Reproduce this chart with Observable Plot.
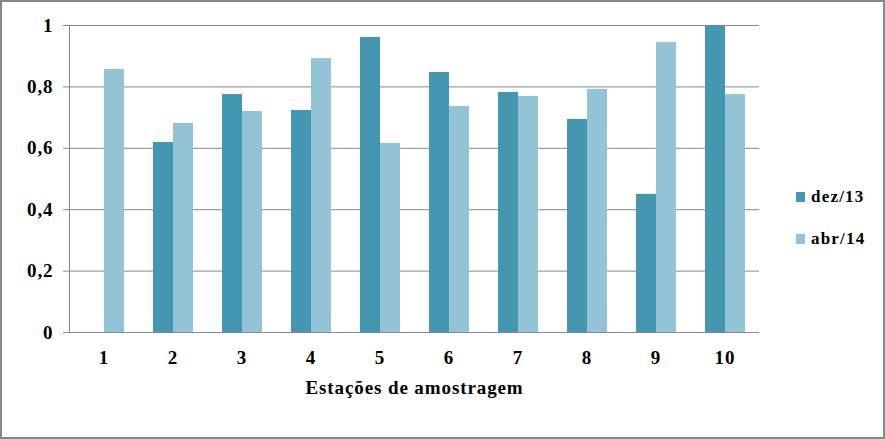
<!DOCTYPE html>
<html>
<head>
<meta charset="utf-8">
<script src="https://cdn.jsdelivr.net/npm/d3@7"></script>
<script src="https://cdn.jsdelivr.net/npm/@observablehq/plot@0.6"></script>
<style>
  html, body { margin: 0; padding: 0; background: #fff; }
  #wrap { position: relative; width: 885px; height: 439px; overflow: hidden; }
  #frame { position: absolute; left: 0; top: 0; width: 885px; height: 439px; box-sizing: border-box; border: 2px solid #878787; pointer-events: none; }
  #legend { position: absolute; left: 796px; top: 186px; font-family: "Liberation Serif", "Times New Roman", serif; font-weight: bold; font-size: 17px; letter-spacing: 1.2px; color: #000; }
  .item { display: flex; align-items: center; height: 22px; margin-bottom: 20px; }
  .sw { width: 9px; height: 10px; margin-right: 6px; }
  #chart svg text { font-family: "Liberation Serif", "Times New Roman", serif !important; letter-spacing: 0.9px; }
</style>
</head>
<body>
<div id="wrap">
  <div id="chart"></div>
  <div id="legend"></div>
  <div id="frame"></div>
</div>
<script>
const stations = ["1","2","3","4","5","6","7","8","9","10"];
const seriesNames = ["dez/13", "abr/14"];
const dez13 = [null, 0.619, 0.775, 0.723, 0.961, 0.847, 0.782, 0.694, 0.450, 1.000];
const abr14 = [0.857, 0.681, 0.720, 0.892, 0.616, 0.736, 0.769, 0.792, 0.945, 0.775];
const colors = ["#4497B0", "#93C4D6"];
const yTicks = [0, 0.2, 0.4, 0.6, 0.8, 1];
const xTitle = "Estações de amostragem";

const data = [];
stations.forEach((s, i) => {
  if (dez13[i] != null) data.push({station: s, series: seriesNames[0], value: dez13[i]});
  if (abr14[i] != null) data.push({station: s, series: seriesNames[1], value: abr14[i]});
});

const fmt = d => String(d).replace(".", ",");
const serif = "Liberation Serif";

const chart = Plot.plot({
  width: 885,
  height: 439,
  marginLeft: 69,
  marginRight: 126,
  marginTop: 25,
  marginBottom: 107,
  style: {fontFamily: serif, background: "transparent"},
  fx: {domain: stations, padding: 0, label: null},
  x: {domain: seriesNames, padding: 0, inset: 14.5, axis: null},
  y: {domain: [0, 1], axis: null},
  color: {domain: seriesNames, range: colors},
  marks: [
    Plot.ruleY(yTicks.filter(d => d > 0), {stroke: "#878787", strokeWidth: 1}),
    Plot.barY(data, {fx: "station", x: "series", y: "value", fill: "series"}),
    Plot.ruleY([0], {stroke: "#878787", strokeWidth: 1}),
    Plot.frame({anchor: "left", stroke: "#878787", facetAnchor: "left"}),
    Plot.axisY(yTicks, {tickSize: 6, tickPadding: 10, stroke: "#878787", strokeOpacity: 1, tickFormat: fmt, fontSize: 19, fontWeight: "bold", fontFamily: serif, fill: "#000", anchor: "left", label: null}),
    Plot.axisFx({anchor: "bottom", tickSize: 0, tickPadding: 18, fontSize: 19, fontWeight: "bold", fontFamily: serif, fill: "#000", label: null}),
    Plot.text([xTitle], {text: d => d, frameAnchor: "bottom", lineAnchor: "middle", dy: 55, fontSize: 19, fontWeight: "bold", fontFamily: serif, fill: "#000", facet: "super"})
  ]
});
document.getElementById("chart").appendChild(chart);

const legend = document.getElementById("legend");
seriesNames.forEach((name, i) => {
  const item = document.createElement("div");
  item.className = "item";
  const sw = document.createElement("div");
  sw.className = "sw";
  sw.style.background = colors[i];
  const lab = document.createElement("span");
  lab.textContent = name;
  item.appendChild(sw);
  item.appendChild(lab);
  legend.appendChild(item);
});
</script>
</body>
</html>
